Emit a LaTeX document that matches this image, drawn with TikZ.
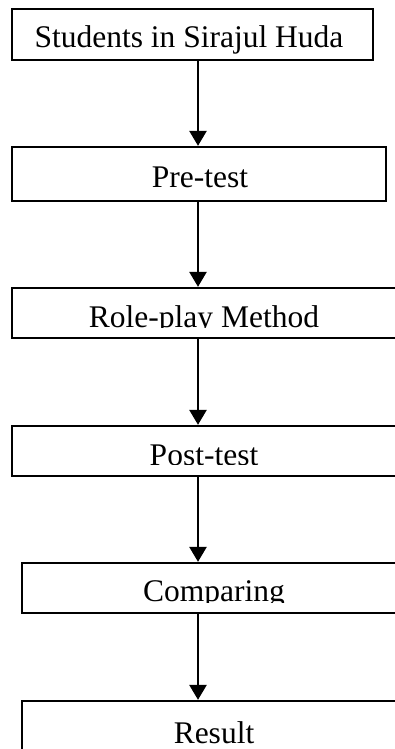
\documentclass[tikz,border=0pt]{standalone}
\usepackage{fontspec}
\setmainfont{Liberation Serif}
\usetikzlibrary{arrows.meta}
\tikzset{
  stagebox/.style={draw, line width=2.3pt, rectangle, inner sep=0pt},
  stagetext/.style={anchor=base, inner sep=0pt, font=\fontsize{31.5}{38}\selectfont},
  flow/.style={line width=2.6pt, -{Triangle[length=15pt,width=17pt]}}
}
\begin{document}
\begin{tikzpicture}[x=1pt,y=1pt]
  \clip (0,0) rectangle (395,-749);
  \useasboundingbox (0,0) rectangle (395,-749);

  % boxes of the flow
  \node[stagebox, minimum width=361pt, minimum height=51pt] (b1) at (192.5,-34.5) {};
  \node[stagebox, minimum width=374pt, minimum height=54pt] (b2) at (199,-174) {};
  \node[stagebox, minimum width=390pt, minimum height=50pt] (b3) at (207,-313) {};
  \node[stagebox, minimum width=390pt, minimum height=50pt] (b4) at (207,-451) {};
  \node[stagebox, minimum width=380pt, minimum height=50pt] (b5) at (212,-588) {};
  \node[stagebox, minimum width=380pt, minimum height=60pt] (b6) at (212,-731) {};

  % labels; the middle ones are cut off at the bottom
  \node[stagetext] (t1) at (189,-47.3) {Students in Sirajul Huda};
  \node[stagetext] (t2) at (200,-187.3) {Pre-test};
  \begin{scope}
    \clip (12,-288) rectangle (395,-327.3);
    \node[stagetext] (t3) at (204,-327) {Role-play Method};
  \end{scope}
  \begin{scope}
    \clip (12,-426) rectangle (395,-464.6);
    \node[stagetext] (t4) at (204,-465) {Post-test};
  \end{scope}
  \begin{scope}
    \clip (22,-563) rectangle (395,-602);
    \node[stagetext] (t5) at (214,-601.7) {Comparing};
  \end{scope}
  \node[stagetext] (t6) at (214,-743.3) {Result};

  % connectors
  \coordinate (ax) at (198,0);
  \draw[flow] (b1.south -| ax) -- (b2.north -| ax);
  \draw[flow] (b2.south -| ax) -- (b3.north -| ax);
  \draw[flow] (b3.south -| ax) -- (b4.north -| ax);
  \draw[flow] (b4.south -| ax) -- (b5.north -| ax);
  \draw[flow] (b5.south -| ax) -- (b6.north -| ax);
\end{tikzpicture}
\end{document}
